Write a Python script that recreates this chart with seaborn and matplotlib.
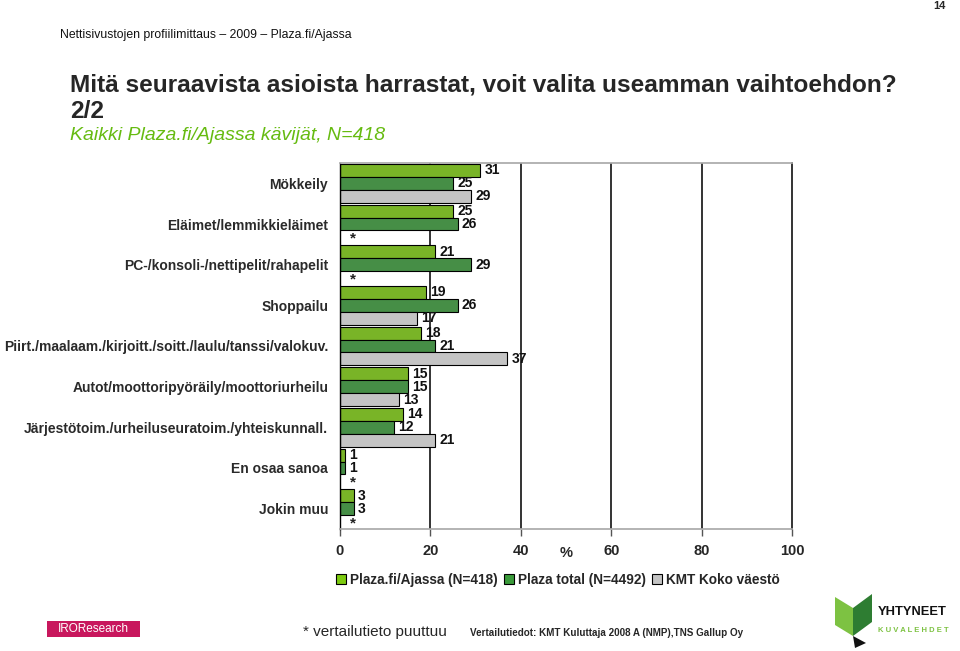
import numpy as np
import pandas as pd
import matplotlib
matplotlib.use("Agg")
import matplotlib.pyplot as plt
import seaborn as sns
from matplotlib import font_manager
from matplotlib.patches import Rectangle, Polygon

# ---------------- data ----------------
categories = [
    "Mökkeily",
    "Eläimet/lemmikkieläimet",
    "PC-/konsoli-/nettipelit/rahapelit",
    "Shoppailu",
    "Piirt./maalaam./kirjoitt./soitt./laulu/tanssi/valokuv.",
    "Autot/moottoripyöräily/moottoriurheilu",
    "Järjestötoim./urheiluseuratoim./yhteiskunnall.",
    "En osaa sanoa",
    "Jokin muu",
]
plaza_ajassa = [31, 25, 21, 19, 18, 15, 14, 1, 3]
plaza_total = [25, 26, 29, 26, 21, 15, 12, 1, 3]
kmt_koko = [29, None, None, 17, 37, 13, 21, None, None]
series_names = ["Plaza.fi/Ajassa (N=418)", "Plaza total (N=4492)", "KMT Koko väestö"]
x_ticks = [0, 20, 40, 60, 80, 100]
colors = ["#7DCB10", "#3A9A3A", "#C4C4C4"]

# ---------------- fonts ----------------
sns.set_theme(style="white")
names = {f.name for f in font_manager.fontManager.ttflist}
base = "Liberation Sans" if "Liberation Sans" in names else "DejaVu Sans"
narrow = "Liberation Sans Narrow" if "Liberation Sans Narrow" in names else base
plt.rcParams["font.family"] = [base, "DejaVu Sans"]

W, H = 960, 651
fig = plt.figure(figsize=(W / 100, H / 100), dpi=100)
fig.patch.set_facecolor("white")

def fx(px):
    return px / W

def fy(py):
    return 1 - py / H

ax = fig.add_axes([fx(340), fy(529), fx(792) - fx(340), fy(163) - fy(529)])

rows = []
for s, vals in zip(series_names, [plaza_ajassa, plaza_total, kmt_koko]):
    for c, v in zip(categories, vals):
        rows.append({"cat": c, "series": s, "value": v})
df = pd.DataFrame(rows)
df_plot = df.dropna(subset=["value"])

sns.barplot(data=df_plot, y="cat", x="value", hue="series", order=categories,
            hue_order=series_names, palette=colors, width=0.95, orient="h",
            edgecolor="black", linewidth=0.8, errorbar=None, legend=False, ax=ax)

for cont in ax.containers:
    ax.bar_label(cont, fmt="%d", padding=3, fontsize=10, fontweight="bold",
                 color="#111111")

# asterisks for missing comparison data
bw = 0.95 / 3
for i, c in enumerate(categories):
    for j, vals in enumerate([plaza_ajassa, plaza_total, kmt_koko]):
        if vals[i] is None:
            ax.text(2.9, i + (j - 1) * bw + 0.05, "*", ha="center", va="center",
                    fontsize=11, fontweight="bold", color="#222222")

ax.set_xlim(0, 100)
ax.set_ylim(len(categories) - 0.5, -0.5)
ax.set_xticks(x_ticks)
ax.set_xticklabels([str(t) for t in x_ticks], fontsize=10.5, fontweight="bold")
ax.set_yticks(range(len(categories)))
ax.set_yticklabels(categories, fontsize=10, fontweight="bold", color="#2a2a2a")
ax.set_yticks(np.arange(-0.5, len(categories) + 0.5, 1), minor=True)
ax.tick_params(axis="y", which="major", length=0, pad=8.5)
ax.tick_params(axis="y", which="minor", length=5, width=1, color="black", direction="out")
ax.tick_params(axis="x", which="major", length=5, width=1, color="#555555",
               direction="out", pad=6, bottom=True)
ax.set_ylabel("")
ax.set_xlabel("%", fontsize=10.5, fontweight="bold")
ax.xaxis.set_label_coords(0.5, -(546 - 529) / 366)
ax.grid(False)
for t in x_ticks[1:-1]:
    ax.axvline(t, color="#111111", lw=1.2, zorder=0)
ax.set_axisbelow(True)
ax.spines["left"].set_color("black")
ax.spines["left"].set_linewidth(1.0)
ax.spines["right"].set_color("#111111")
ax.spines["right"].set_linewidth(1.2)
ax.spines["top"].set_color("#aaaaaa")
ax.spines["bottom"].set_color("#aaaaaa")

# legend
handles = [Rectangle((0, 0), 1, 1, fc=c, ec="black", lw=0.8) for c in colors]
fig.legend(handles, series_names, loc="center left",
           bbox_to_anchor=(fx(336), fy(580)), ncol=3, frameon=False,
           handlelength=0.7, handleheight=0.7, handletextpad=0.3,
           columnspacing=0.5, borderaxespad=0, borderpad=0,
           prop={"family": base, "size": 9.8, "weight": "bold"})

# header texts
fig.text(fx(60), fy(35), "Nettisivustojen profiilimittaus – 2009 – Plaza.fi/Ajassa",
         fontsize=8.8, family=narrow, va="center", ha="left", color="#111111")
fig.text(fx(946), fy(6), "14", fontsize=8, family=narrow, fontweight="bold",
         va="center", ha="right")
fig.text(fx(70), fy(85), "Mitä seuraavista asioista harrastat, voit valita useamman vaihtoehdon?",
         fontsize=17.6, family=narrow, fontweight="bold", va="center", ha="left")
fig.text(fx(70), fy(112), "2/2", fontsize=17.6, family=narrow, fontweight="bold",
         va="center", ha="left")
fig.text(fx(70), fy(135), "Kaikki Plaza.fi/Ajassa kävijät, N=418", fontsize=14,
         family=narrow, style="italic", color="#66BB11", va="center", ha="left")

# footer
fig.patches.append(Rectangle((fx(47), fy(637)), fx(140) - fx(47), fy(621) - fy(637),
                             transform=fig.transFigure, fc="#C8175D", ec="none"))
fig.text(fx(93), fy(629), "IROResearch", fontsize=8.5, color="white",
         ha="center", va="center")
fig.text(fx(303), fy(632), "* vertailutieto puuttuu", fontsize=11, family=narrow,
         ha="left", va="center")
fig.text(fx(470), fy(633), "Vertailutiedot: KMT Kuluttaja 2008 A (NMP),TNS Gallup Oy",
         fontsize=7.1, family=narrow, fontweight="bold", ha="left", va="center")

# logo (simplified)
def poly(pts, color):
    fig.patches.append(Polygon([(fx(a), fy(b)) for a, b in pts], closed=True,
                               transform=fig.transFigure, fc=color, ec="none"))

poly([(835, 597), (853, 608), (853, 636), (835, 625)], "#7DC242")
poly([(853, 608), (872, 594), (872, 622), (853, 636)], "#2E7D32")
poly([(853, 636), (866, 643), (855, 648)], "#111111")
fig.text(fx(878), fy(612), "YHTYNEET", fontsize=9.3, family=narrow, fontweight="bold",
         ha="left", va="center", color="#111111")
fig.text(fx(878), fy(630), "K U V A L E H D E T", fontsize=5.5, fontweight="bold",
         ha="left", va="center", color="#7DC242")

fig.savefig("out.png", dpi=100)
